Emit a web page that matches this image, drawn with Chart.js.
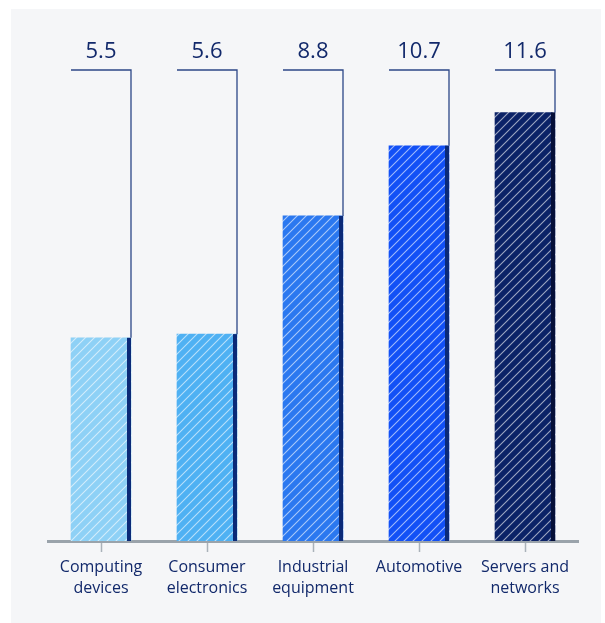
<!DOCTYPE html>
<html>
<head>
<meta charset="utf-8">
<script src="https://cdn.jsdelivr.net/npm/chart.js@4.4.1/dist/chart.umd.min.js"></script>
<style>
  html, body { margin: 0; padding: 0; background: #ffffff; }
  #wrap { width: 605px; height: 623px; }
</style>
</head>
<body>
<div id="wrap"><canvas id="chart" width="605" height="623"></canvas></div>
<script>
// Market segments and their values
const categories = [
  ['Computing', 'devices'],
  ['Consumer', 'electronics'],
  ['Industrial', 'equipment'],
  ['Automotive'],
  ['Servers and', 'networks'],
];
const values = [5.5, 5.6, 8.8, 10.7, 11.6];
const valueLabels = ['5.5', '5.6', '8.8', '10.7', '11.6'];

// Front face and side strip colours, light to dark
const faceColors = ['#8ed1f6', '#4fb1f3', '#2b78f0', '#1250f6', '#0b2267'];
const sideColors = ['#0b2a78', '#0b2a78', '#0b2a78', '#0b2a78', '#050f38'];

const NAVY = '#12296b';
const FONT = "'Open Sans', sans-serif";

// Diagonal white hatch on top of a solid fill
function hatch(color) {
  const s = 9;
  const c = document.createElement('canvas');
  c.width = s;
  c.height = s;
  const g = c.getContext('2d');
  g.fillStyle = color;
  g.fillRect(0, 0, s, s);
  g.strokeStyle = 'rgba(255,255,255,0.6)';
  g.lineWidth = 1.1;
  g.beginPath();
  g.moveTo(-1, s + 1); g.lineTo(s + 1, -1);
  g.moveTo(-1, 1); g.lineTo(1, -1);
  g.moveTo(s - 1, s + 1); g.lineTo(s + 1, s - 1);
  g.stroke();
  return g.createPattern(c, 'repeat');
}

const panelBg = {
  id: 'panelBg',
  beforeDraw(chart) {
    const ctx = chart.ctx;
    ctx.save();
    ctx.fillStyle = '#ffffff';
    ctx.fillRect(0, 0, chart.width, chart.height);
    ctx.fillStyle = '#f5f6f8';
    ctx.fillRect(11, 9, 590, chart.height - 9);
    ctx.restore();
  },
};

// Dark right-hand strip, leader line and value label for each bar
const barDecor = {
  id: 'barDecor',
  afterDatasetsDraw(chart) {
    const ctx = chart.ctx;
    const meta = chart.getDatasetMeta(0);
    const top = chart.chartArea.top;
    ctx.save();
    meta.data.forEach((bar, i) => {
      const left = bar.x - bar.width / 2;
      const right = bar.x + bar.width / 2;
      ctx.fillStyle = sideColors[i];
      ctx.fillRect(right - 4, bar.y, 4, bar.base - bar.y);

      ctx.strokeStyle = '#2c4787';
      ctx.lineWidth = 1.3;
      ctx.beginPath();
      ctx.moveTo(left, top);
      ctx.lineTo(right, top);
      ctx.lineTo(right, bar.y);
      ctx.stroke();

      ctx.fillStyle = NAVY;
      ctx.font = `500 22px ${FONT}`;
      ctx.textAlign = 'center';
      ctx.textBaseline = 'alphabetic';
      ctx.fillText(valueLabels[i], bar.x, top - 12);
    });
    ctx.restore();
  },
};

new Chart(document.getElementById('chart'), {
  type: 'bar',
  data: {
    labels: categories,
    datasets: [{
      data: values,
      backgroundColor: faceColors.map(hatch),
      borderWidth: 0,
      barThickness: 60,
    }],
  },
  options: {
    responsive: false,
    animation: false,
    events: [],
    layout: { padding: { top: 70, left: 48, right: 27, bottom: 10 } },
    plugins: {
      legend: { display: false },
      tooltip: { enabled: false },
    },
    scales: {
      x: {
        z: 1,
        afterFit(scale) { scale.height = 72; },
        border: { display: true, color: '#9aa3ab', width: 3 },
        grid: {
          offset: false,
          drawOnChartArea: false,
          drawTicks: true,
          tickLength: 11,
          tickWidth: 1.5,
          tickColor: '#aab2ba',
        },
        ticks: {
          color: NAVY,
          padding: 5,
          font: { family: FONT, size: 16, weight: '500', lineHeight: 1.33 },
          maxRotation: 0,
        },
      },
      y: {
        display: false,
        min: 0,
        max: 12.75,
      },
    },
  },
  plugins: [panelBg, barDecor],
});
</script>
</body>
</html>
